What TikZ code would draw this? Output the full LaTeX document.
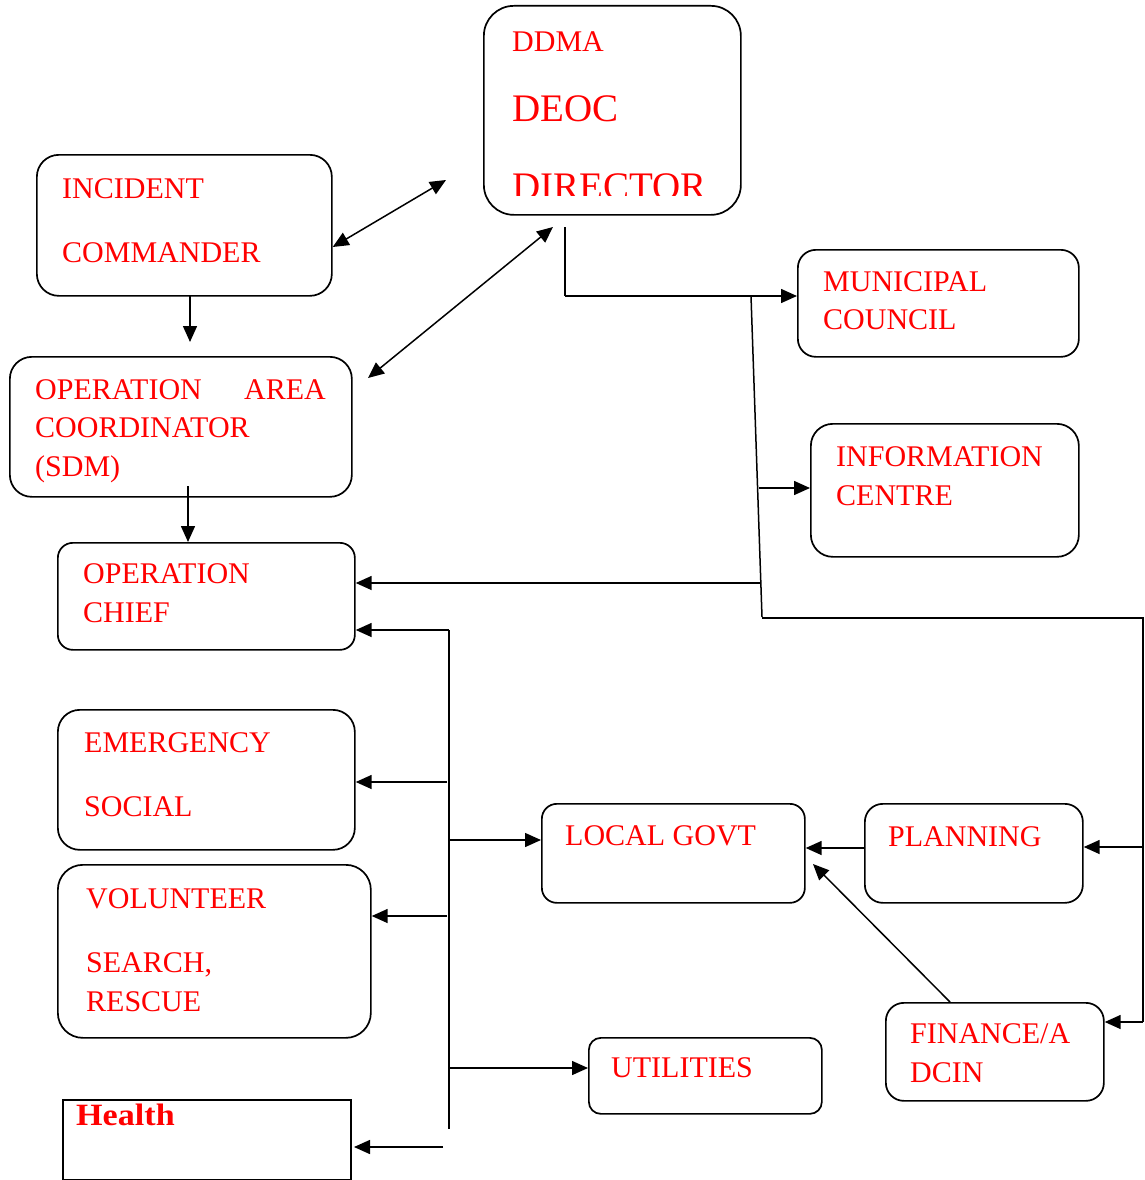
\documentclass[tikz,border=0pt]{standalone}
\usepackage{fontspec}
\setmainfont{Liberation Serif}
\newfontfamily\hfont[FakeStretch=1.1]{Liberation Serif}
\usetikzlibrary{arrows.meta}
\tikzset{
  box/.style={draw=black, line width=1.7pt, inner sep=0pt, anchor=north west, rounded corners=#1},
  box/.default=18pt,
  lbl/.style={text=red, font=\fontsize{30}{32}\selectfont, inner sep=0pt, anchor=base west},
  biglbl/.style={lbl, font=\fontsize{39}{41}\selectfont},
  conn/.style={line width=1.5pt, draw=black},
  arr/.style={conn, -{Triangle[length=16pt,width=14pt]}},
  darr/.style={conn, {Triangle[length=16pt,width=14pt]}-{Triangle[length=16pt,width=14pt]}},
}
\begin{document}
\begin{tikzpicture}[x=1pt,y=-1pt]
\useasboundingbox (0,0) rectangle (1144,1180);
% boxes
\node[box=30pt, minimum width=257pt, minimum height=209pt] (ddma) at (483,5) {};
\node[box=22pt, minimum width=295pt, minimum height=141pt] (ic) at (36,154) {};
\node[box=22pt, minimum width=342pt, minimum height=140pt] (oac) at (9,356) {};
\node[box=15pt, minimum width=297pt, minimum height=107pt] (oc) at (57,542) {};
\node[box=22pt, minimum width=297pt, minimum height=140pt] (em) at (57,709) {};
\node[box=25pt, minimum width=313pt, minimum height=173pt] (vol) at (57,864) {};
\node[draw=black, line width=1.7pt, inner sep=0pt, anchor=north west, minimum width=288pt, minimum height=80pt] (health) at (62,1099) {};
\node[box=18pt, minimum width=281pt, minimum height=107pt] (mc) at (797,249) {};
\node[box=22pt, minimum width=268pt, minimum height=133pt] (info) at (810,423) {};
\node[box=15pt, minimum width=263pt, minimum height=99pt] (lg) at (541,803) {};
\node[box=18pt, minimum width=218pt, minimum height=99pt] (plan) at (864,803) {};
\node[box=18pt, minimum width=218pt, minimum height=98pt] (fin) at (885,1002) {};
\node[box=12pt, minimum width=233pt, minimum height=76pt] (util) at (588,1037) {};
% texts
\node[lbl] (tddma) at (512,52) {DDMA};
\node[biglbl] (tdeoc) at (512,122) {DEOC};
\begin{scope}
\clip (483,5) rectangle (740,195);
\node[biglbl] (tdir) at (512,199) {DIRECTOR};
\end{scope}
\node[lbl] (tic1) at (62,198) {INCIDENT};
\node[lbl] (tic2) at (62,262) {COMMANDER};
\node[lbl] (toac1) at (35,399) {OPERATION};
\node[lbl, anchor=base east] (toac2) at (326,399) {AREA};
\node[lbl] (toac3) at (35,437) {COORDINATOR};
\node[lbl] (toac4) at (35,476) {(SDM)};
\node[lbl] (toc1) at (83,583) {OPERATION};
\node[lbl] (toc2) at (83,622) {CHIEF};
\node[lbl] (tem1) at (84,752) {EMERGENCY};
\node[lbl] (tem2) at (84,816) {SOCIAL};
\node[lbl] (tvol1) at (86,908) {VOLUNTEER};
\node[lbl] (tvol2) at (86,972) {SEARCH,};
\node[lbl] (tvol3) at (86,1011) {RESCUE};
\node[lbl, font=\hfont\fontsize{31}{33}\selectfont\bfseries] (thealth) at (76,1125) {Health};
\node[lbl] (tmc1) at (823,291) {MUNICIPAL};
\node[lbl] (tmc2) at (823,329) {COUNCIL};
\node[lbl] (tinfo1) at (836,466) {INFORMATION};
\node[lbl] (tinfo2) at (836,505) {CENTRE};
\node[lbl] (tlg) at (565,845) {LOCAL GOVT};
\node[lbl] (tplan) at (888,846) {PLANNING};
\node[lbl] (tfin1) at (910,1043) {FINANCE/A};
\node[lbl] (tfin2) at (910,1082) {DCIN};
\node[lbl] (tutil) at (611,1077) {UTILITIES};
% coordinates
\coordinate (c1) at (446,180);
\coordinate (c2) at (553,227);
\coordinate (c3) at (368,378);
\coordinate (d1) at (565,227);
\coordinate (d2) at (565,296);
\coordinate (s1) at (751,296);
\coordinate (s2) at (762,617);
\coordinate (i1) at (759,488);
\coordinate (o1) at (760,583);
\coordinate (r1) at (762,618);
\coordinate (r2) at (1143,618);
\coordinate (r3) at (1143,1022);
\coordinate (r4) at (1143,847);
\coordinate (b1) at (449,630);
\coordinate (b2) at (449,1129);
\coordinate (e1) at (447,782);
\coordinate (v1) at (447,916);
\coordinate (l1) at (449,840);
\coordinate (u1) at (449,1068);
\coordinate (h1) at (443,1147);
\coordinate (h2) at (354,1147);
\coordinate (f1) at (950,1002);
\coordinate (f2) at (813,864);
\coordinate (a1) at (190,295);
\coordinate (a2) at (190,342);
\coordinate (a3) at (188,486);
% connectors
\draw[darr] (ic.east |- 0,247) -- (c1);
\draw[darr] (c2) -- (c3);
\draw[arr] (a1) -- (a2);
\draw[arr] (a3) -- (oc.north -| a3);
\draw[conn] (d1) -- (d2);
\draw[arr] (d2) -- (mc.west |- d2);
\draw[conn] (s1) -- (s2);
\draw[arr] (i1) -- (info.west |- i1);
\draw[arr] (o1) -- (oc.east |- o1);
\draw[conn] (r1) -- (r2) -- (r3);
\draw[arr] (r4) -- (plan.east |- r4);
\draw[arr] (r3) -- (fin.east |- r3);
\draw[arr] (plan.west |- 0,848) -- (lg.east |- 0,848);
\draw[arr] (f1) -- (f2);
\draw[conn] (b1) -- (b2);
\draw[arr] (b1) -- (oc.east |- b1);
\draw[arr] (e1) -- (em.east |- e1);
\draw[arr] (v1) -- (vol.east |- v1);
\draw[arr] (l1) -- (lg.west |- l1);
\draw[arr] (u1) -- (util.west |- u1);
\draw[arr] (h1) -- (h2);
\end{tikzpicture}
\end{document}
